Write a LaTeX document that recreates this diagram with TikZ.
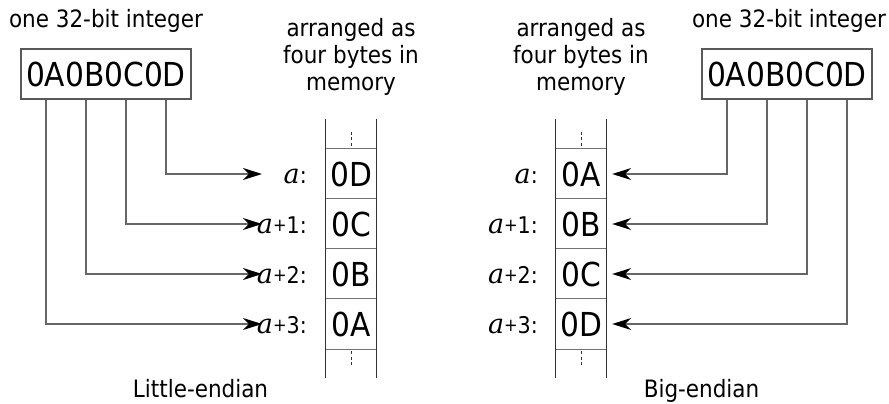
\documentclass[tikz,border=0pt]{standalone}
\usepackage{fontspec}
\setmainfont{DejaVu Sans Condensed}
\newfontfamily\aserif{DejaVu Serif}
\usetikzlibrary{arrows.meta}
\newcommand{\ai}{{\aserif\itshape\fontsize{27}{30}\selectfont a}}
\newcommand{\pl}{\raisebox{1.5pt}{\fontsize{18}{20}\selectfont+}}
\begin{document}
\begin{tikzpicture}[x=1pt,y=-1pt,
  txt/.style={inner sep=0pt, font=\fontsize{23.9}{28}\selectfont},
  lab/.style={inner sep=0pt, anchor=base east, font=\fontsize{23}{28}\selectfont},
  intbox/.style={draw=black!65, line width=1.2pt, minimum width=170pt, minimum height=50pt, inner sep=0pt, font=\fontsize{33}{40}\selectfont},
  cell/.style={minimum width=50pt, minimum height=50pt, inner sep=0pt, font=\fontsize{33}{40}\selectfont},
  sep/.style={draw=black!55, line width=1.3pt},
  col/.style={draw=black!80, line width=1.2pt},
  dots/.style={draw=black!80, line width=0.8pt, dash pattern=on 3pt off 2.5pt},
  conn/.style={draw=black!60, line width=1.4pt, -{Stealth[length=19pt,width=12pt,inset=6pt,color=black]}}]
\useasboundingbox (0,0) rectangle (889,404);

% ---------------- Little-endian ----------------
\node[txt, anchor=base] (Ltitle) at (106,27.5) {one 32-bit integer};
\node[intbox] (Lint) at (106,74) {0A0B0C0D};
\node[txt, anchor=base] (Lm1) at (351,37) {arranged as};
\node[txt, anchor=base] (Lm2) at (351,63.5) {four bytes in};
\node[txt, anchor=base] (Lm3) at (351,90) {memory};

\node[cell] (L0) at (351,174) {0D};
\node[cell] (L1) at (351,224) {0C};
\node[cell] (L2) at (351,274) {0B};
\node[cell] (L3) at (351,324) {0A};

\node[lab] (La0) at (307,183) {\ai:};
\node[lab] (La1) at (307,233) {\ai\pl1:};
\node[lab] (La2) at (307,283) {\ai\pl2:};
\node[lab] (La3) at (307,333) {\ai\pl3:};

\draw[col] ([yshift=30pt]L0.north west) -- ([yshift=-29pt]L3.south west);
\draw[col] ([yshift=30pt]L0.north east) -- ([yshift=-29pt]L3.south east);
\foreach \c in {L0,L1,L2,L3} {
  \draw[sep] (\c.north west) -- (\c.north east);
}
\draw[sep] (L3.south west) -- (L3.south east);
\draw[dots] ([yshift=3pt]L0.north) -- ([yshift=19pt]L0.north);
\draw[dots] ([yshift=-2pt]L3.south) -- ([yshift=-16pt]L3.south);

\coordinate (Lt0) at (262,174);
\coordinate (Lt1) at (262,224);
\coordinate (Lt2) at (262,274);
\coordinate (Lt3) at (262,324);
\draw[conn] ([xshift=60pt]Lint.south) |- (Lt0);
\draw[conn] ([xshift=20pt]Lint.south) |- (Lt1);
\draw[conn] ([xshift=-20pt]Lint.south) |- (Lt2);
\draw[conn] ([xshift=-60pt]Lint.south) |- (Lt3);

\node[txt, anchor=base] (Lname) at (200.5,397) {Little-endian};

% ---------------- Big-endian ----------------
\node[txt, anchor=base] (Rtitle) at (789,27.5) {one 32-bit integer};
\node[intbox] (Rint) at (787,74) {0A0B0C0D};
\node[txt, anchor=base] (Rm1) at (581,37) {arranged as};
\node[txt, anchor=base] (Rm2) at (581,63.5) {four bytes in};
\node[txt, anchor=base] (Rm3) at (581,90) {memory};

\node[cell] (R0) at (581,174) {0A};
\node[cell] (R1) at (581,224) {0B};
\node[cell] (R2) at (581,274) {0C};
\node[cell] (R3) at (581,324) {0D};

\node[lab] (Ra0) at (538,183) {\ai:};
\node[lab] (Ra1) at (538,233) {\ai\pl1:};
\node[lab] (Ra2) at (538,283) {\ai\pl2:};
\node[lab] (Ra3) at (538,333) {\ai\pl3:};

\draw[col] ([yshift=30pt]R0.north west) -- ([yshift=-29pt]R3.south west);
\draw[col] ([yshift=30pt]R0.north east) -- ([yshift=-29pt]R3.south east);
\foreach \c in {R0,R1,R2,R3} {
  \draw[sep] (\c.north west) -- (\c.north east);
}
\draw[sep] (R3.south west) -- (R3.south east);
\draw[dots] ([yshift=3pt]R0.north) -- ([yshift=19pt]R0.north);
\draw[dots] ([yshift=-2pt]R3.south) -- ([yshift=-16pt]R3.south);

\draw[conn] ([xshift=-60pt]Rint.south) |- ([xshift=6pt]R0.east);
\draw[conn] ([xshift=-20pt]Rint.south) |- ([xshift=6pt]R1.east);
\draw[conn] ([xshift=20pt]Rint.south) |- ([xshift=6pt]R2.east);
\draw[conn] ([xshift=60pt]Rint.south) |- ([xshift=6pt]R3.east);

\node[txt, anchor=base] (Rname) at (701.5,397) {Big-endian};
\end{tikzpicture}
\end{document}
